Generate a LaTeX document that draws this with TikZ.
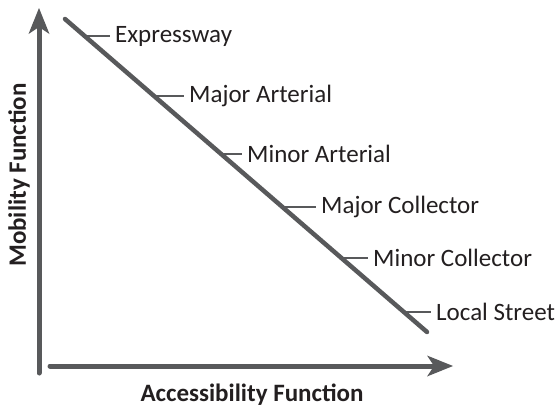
\documentclass[tikz,border=0pt]{standalone}
\usepackage{fontspec}
\setmainfont{Carlito}
\usetikzlibrary{arrows.meta}
\definecolor{ln}{HTML}{58595B}
\definecolor{tx}{HTML}{231F20}
\begin{document}
\begin{tikzpicture}[x=1pt,y=-1pt,
  axis/.style={draw=ln,line width=5pt,-{Stealth[length=26pt,width=21pt,inset=7pt,line width=0pt]}},
  tick/.style={draw=ln,line width=2.6pt},
  lbl/.style={anchor=west,inner sep=0pt,text=tx,font=\fontsize{25}{27}\selectfont},
  ttl/.style={inner sep=0pt,text=tx,font=\bfseries\fontsize{25}{27}\selectfont}]
\useasboundingbox (0,0) rectangle (560,410);
\coordinate (yb) at (39,373);
\coordinate (yt) at (39,8);
\coordinate (xl) at (50,366);
\coordinate (xr) at (453,366);
\draw[axis,line cap=round] (yb) -- (yt);
\draw[axis,line cap=round] (xl) -- (xr);
\coordinate (d1) at (65,19);
\coordinate (d2) at (427,332);
\draw[ln,line width=4.5pt,line cap=round] (d1) -- (d2);
\foreach \y/\tx/\t [count=\i] in {36/115/Expressway,96/189/Major Arterial,154/247/Minor Arterial,207/321/Major Collector,258/373/Minor Collector,312/436/Local Street}{
  \pgfmathsetmacro{\xs}{65+(\y-19)/313*362}
  \coordinate (s\i) at (\xs,\y);
  \node[lbl] (l\i) at (\tx,\y) {\t};
  \draw[tick] (s\i) -- ([xshift=-5pt]l\i.west);
}
\node[ttl] (xt) at (252,395) {Accessibility Function};
\node[ttl,rotate=90] (yt2) at (19,175) {Mobility Function};
\end{tikzpicture}
\end{document}
